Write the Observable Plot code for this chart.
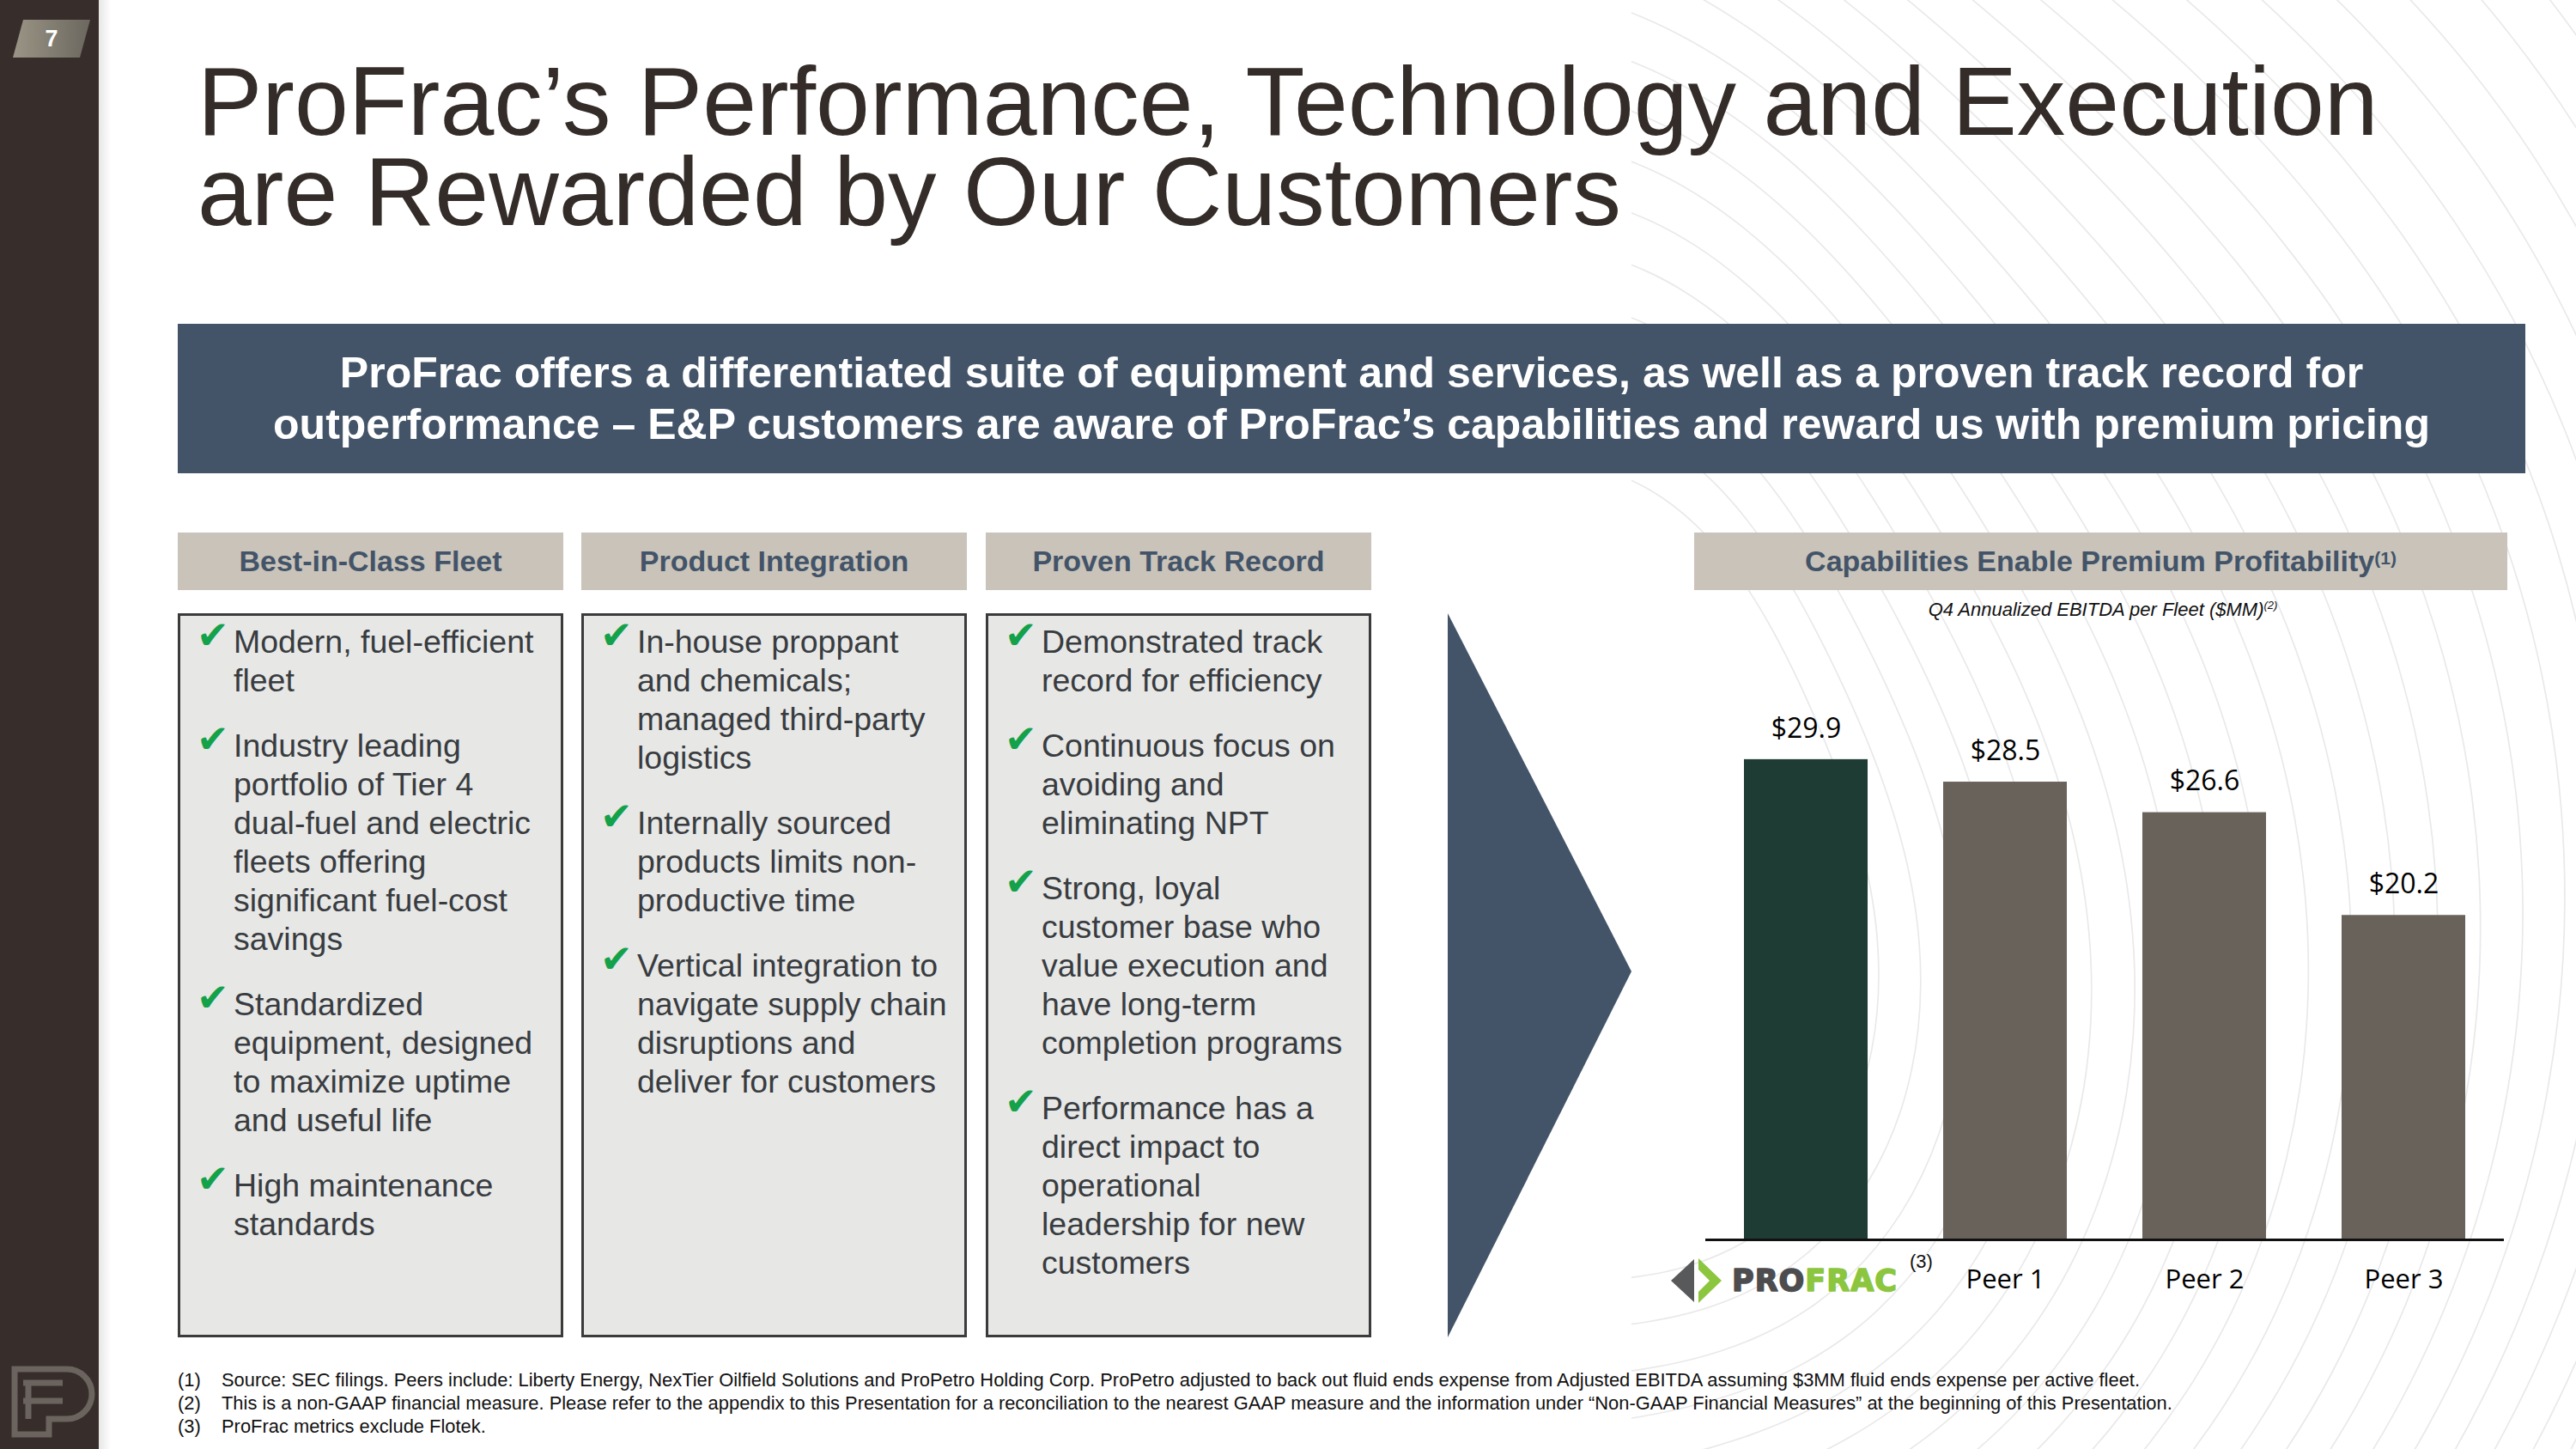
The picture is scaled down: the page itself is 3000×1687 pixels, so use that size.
<!DOCTYPE html>
<html>
<head>
<meta charset="utf-8">
<script src="https://cdn.jsdelivr.net/npm/d3@7"></script>
<script src="https://cdn.jsdelivr.net/npm/@observablehq/plot@0.6"></script>
<style>
  html, body { margin: 0; padding: 0; }
  body { width: 3000px; height: 1687px; position: relative; overflow: hidden; background: #ffffff;
         font-family: "Liberation Sans", Arial, sans-serif; }
  .abs { position: absolute; }
  #sidebar { left: 0; top: 0; width: 115px; height: 1687px; background: #372e2b; }
  #shadow { left: 115px; top: 0; width: 14px; height: 1687px; background: linear-gradient(to right, #e6e6e6, rgba(255,255,255,0)); }
  .title { left: 230px; font-size: 113px; line-height: 100px; height: 100px; color: #332c29; white-space: nowrap; }
  #banner { left: 207px; top: 377px; width: 2734px; height: 174px; background: #435469; color: #fff;
            font-weight: bold; font-size: 50px; line-height: 60px; text-align: center;
            display: flex; align-items: center; justify-content: center; }
  .hdr { height: 67px; background: #c9c3b9; color: #435469; font-weight: bold; font-size: 34px;
         display: flex; align-items: center; justify-content: center; white-space: nowrap; }
  .hdr sup { font-size: 21px; font-weight: bold; position: relative; top: -4px; }
  .box { top: 714px; width: 443px; height: 837px; background: #e7e7e6; border: 3px solid #3b3b3b; }
  .box ul { list-style: none; margin: 0; padding: 8px 0 0 62px; }
  .box li { position: relative; font-size: 37.5px; line-height: 45px; color: #383c40; margin-bottom: 31px; white-space: nowrap; }
  .box li .chk { position: absolute; left: -43px; top: -8px; color: #13a14a; font-family: "DejaVu Sans"; font-size: 45px; }
  #sub { left: 2049px; width: 800px; top: 697px; text-align: center; font-style: italic; font-size: 22px; color: #111; }
  #sub sup { font-size: 13px; }
  #foot { left: 207px; top: 1593px; font-size: 21.9px; line-height: 27px; color: #111; white-space: nowrap; }
  #foot .n { display: inline-block; width: 51px; }
  #chart { left: 1900px; top: 760px; }
</style>
</head>
<body>
<script>
// ---------------- data ----------------
const categories = ["ProFrac", "Peer 1", "Peer 2", "Peer 3"];
const values = [29.9, 28.5, 26.6, 20.2];
const barColors = ["#1e3c34", "#69625a", "#69625a", "#69625a"];
const titleLines = ["ProFrac\u2019s Performance, Technology and Execution", "are Rewarded by Our Customers"];
const bannerLines = ["ProFrac offers a differentiated suite of equipment and services, as well as a proven track record for",
                     "outperformance \u2013 E&P customers are aware of ProFrac\u2019s capabilities and reward us with premium pricing"];
const columnHeaders = ["Best-in-Class Fleet", "Product Integration", "Proven Track Record"];
const chartHeader = "Capabilities Enable Premium Profitability";
const chartSubtitle = "Q4 Annualized EBITDA per Fleet ($MM)";
const col1Bullets = [["Modern, fuel-efficient", "fleet"],
  ["Industry leading", "portfolio of Tier 4", "dual-fuel and electric", "fleets offering", "significant fuel-cost", "savings"],
  ["Standardized", "equipment, designed", "to maximize uptime", "and useful life"],
  ["High maintenance", "standards"]];
const col2Bullets = [["In-house proppant", "and chemicals;", "managed third-party", "logistics"],
  ["Internally sourced", "products limits non-", "productive time"],
  ["Vertical integration to", "navigate supply chain", "disruptions and", "deliver for customers"]];
const col3Bullets = [["Demonstrated track", "record for efficiency"],
  ["Continuous focus on", "avoiding and", "eliminating NPT"],
  ["Strong, loyal", "customer base who", "value execution and", "have long-term", "completion programs"],
  ["Performance has a", "direct impact to", "operational", "leadership for new", "customers"]];
const footnotes = [
  "Source: SEC filings. Peers include: Liberty Energy, NexTier Oilfield Solutions and ProPetro Holding Corp. ProPetro adjusted to back out fluid ends expense from Adjusted EBITDA assuming $3MM fluid ends expense per active fleet.",
  "This is a non-GAAP financial measure. Please refer to the appendix to this Presentation for a reconciliation to the nearest GAAP measure and the information under \u201cNon-GAAP Financial Measures\u201d at the beginning of this Presentation.",
  "ProFrac metrics exclude Flotek."];
const pageNumber = "7";

// ---------------- layout helpers ----------------
const body = d3.select("body");
function div(cls, id) { const d = body.append("div").attr("class", "abs " + (cls || "")); if (id) d.attr("id", id); return d; }

// background contour lines (decorative)
const bg = body.append("svg").attr("class", "abs").style("left", 0).style("top", 0)
  .attr("width", 3000).attr("height", 1687);
bg.append("clipPath").attr("id", "bgclip").append("rect").attr("x", 1900).attr("y", 0).attr("width", 1100).attr("height", 1687);
const bgG = bg.append("g").attr("clip-path", "url(#bgclip)");
const contour = d3.line().curve(d3.curveCardinalClosed);
for (let i = 0; i < 28; i++) {
  const r = 380 + i * 48;
  const pts = d3.range(0, 72).map(k => {
    const t = k / 72 * 2 * Math.PI;
    const rr = r * (1 + 0.07 * Math.sin(3 * t + i * 0.1));
    return [1820 + 0.95 * rr * Math.cos(t), 1050 + 1.25 * rr * Math.sin(t)];
  });
  bgG.append("path").attr("d", contour(pts)).attr("fill", "none").attr("stroke", "#e9e9e9").attr("stroke-width", 1.7);
}

div("", "sidebar");
div("", "shadow");

// page badge
const badge = body.append("svg").attr("class", "abs").style("left", 0).style("top", 0).attr("width", 115).attr("height", 90);
const grad = badge.append("defs").append("linearGradient").attr("id", "bgrad").attr("x1", 0).attr("x2", 1);
grad.append("stop").attr("offset", 0).attr("stop-color", "#9a9585");
grad.append("stop").attr("offset", 1).attr("stop-color", "#6c675f");
badge.append("polygon").attr("points", "27,23 105,23 93,67 15,67").attr("fill", "url(#bgrad)");
badge.append("text").attr("x", 60).attr("y", 54).attr("text-anchor", "middle").attr("fill", "#fff")
  .attr("font-family", "Liberation Sans").attr("font-weight", "bold").attr("font-size", 27).text(pageNumber);

// sidebar emblem
const emb = body.append("svg").attr("class", "abs").style("left", 0).style("top", 1570).attr("width", 115).attr("height", 117);
emb.append("path").attr("d", "M17,100 V24 H78 A29,29 0 0 1 78,82 H57 V100 Z").attr("fill", "none").attr("stroke", "#6b635e").attr("stroke-width", 7);
emb.append("path").attr("d", "M33,82 V38 M27,40 H73 M27,61 H73").attr("fill", "none").attr("stroke", "#6b635e").attr("stroke-width", 7);

// title
titleLines.forEach((t, i) => div("title").style("top", (68 + i * 105) + "px").text(t));

// banner
div("", "banner").html(bannerLines.join("<br>"));

// column headers & boxes
const colX = [207, 677, 1148];
const colBullets = [col1Bullets, col2Bullets, col3Bullets];
columnHeaders.forEach((h, i) => {
  div("hdr").style("left", colX[i] + "px").style("top", "620px").style("width", "449px").text(h);
  const box = div("box").style("left", colX[i] + "px");
  const ul = box.append("ul");
  colBullets[i].forEach(lines => {
    const li = ul.append("li");
    li.append("span").attr("class", "chk").text("\u2714");
    li.append("span").html(lines.join("<br>"));
  });
});
div("hdr").style("left", "1973px").style("top", "620px").style("width", "947px").html(chartHeader + "<sup>(1)</sup>");

// triangle arrow
const tri = body.append("svg").attr("class", "abs").style("left", "1680px").style("top", "710px").attr("width", 230).attr("height", 850);
tri.append("polygon").attr("points", "6,4 220,421 6,847").attr("fill", "#435469");

// chart subtitle
div("", "sub").html(chartSubtitle + "<sup>(2)</sup>");

// ---------------- chart ----------------
const data = categories.map((c, i) => ({cat: c, value: values[i]}));
const chart = Plot.plot({
  width: 1100, height: 800,
  marginLeft: 86, marginRight: 84, marginTop: 122, marginBottom: 117,
  x: {domain: categories, paddingInner: 0.38, paddingOuter: 0.19, axis: null},
  y: {domain: [0, 30], axis: null},
  color: {domain: categories, range: barColors},
  style: {background: "transparent", overflow: "visible"},
  marks: [
    Plot.barY(data, {x: "cat", y: "value", fill: "cat"}),
    Plot.ruleY([0], {stroke: "#111111", strokeWidth: 3}),
    Plot.text(data, {x: "cat", y: "value", text: d => "$" + d.value.toFixed(1), dy: -36,
      fontSize: 32, fontFamily: "Open Sans", fill: "#000"}),
    Plot.text(data.filter(d => d.cat !== "ProFrac"), {x: "cat", frameAnchor: "bottom", dy: 56, text: "cat",
      fontSize: 31, fontFamily: "Open Sans", fill: "#000"})
  ]
});
const holder = div("", "chart");
holder.node().appendChild(chart);

// ProFrac logo as the first category label, placed through the chart's scales
const xs = chart.scale("x"), ys = chart.scale("y");
const cx = xs.apply("ProFrac") + xs.bandwidth / 2;
const ly = ys.apply(0) + 47;
const lg = d3.select(chart).append("g").attr("transform", `translate(${cx},${ly})`).attr("text-anchor", "start");
lg.append("polygon").attr("points", "-157,1 -130,-24 -130,26").attr("fill", "#58595b");
lg.append("polygon").attr("points", "-125,-25 -98,1 -125,27 -125,14 -112,1 -125,-12").attr("fill", "#8cc63f");
const logoFont = (t, c) => t.attr("font-family", "DejaVu Sans").attr("font-weight", "bold").attr("font-size", 35)
  .attr("letter-spacing", 1).attr("y", 13).attr("text-anchor", "start")
  .attr("fill", c).attr("stroke", c).attr("stroke-width", 1.6).attr("stroke-linejoin", "round");
const pro = logoFont(lg.append("text"), "#4d4d4f").attr("x", -86).text("PRO");
const proW = pro.node().getComputedTextLength();
logoFont(lg.append("text"), "#8cc63f").attr("x", -86 + proW).text("FRAC");
lg.append("text").attr("x", 121).attr("y", -14).attr("text-anchor", "start").attr("font-family", "Liberation Sans")
  .attr("font-size", 22).attr("fill", "#111").text("(3)");

// footnotes
div("", "foot").html(footnotes.map((f, i) => `<span class="n">(${i + 1})</span>${f}`).join("<br>"));
</script>
</body>
</html>
